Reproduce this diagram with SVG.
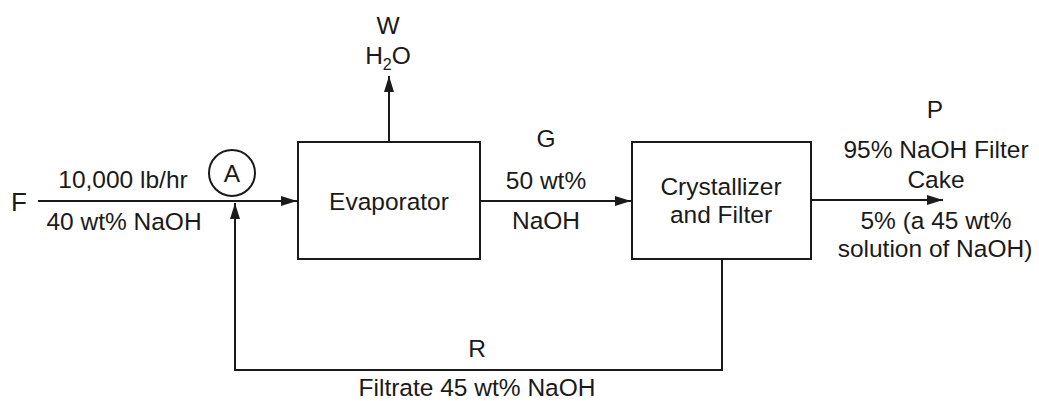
<svg xmlns="http://www.w3.org/2000/svg" width="1039" height="401" viewBox="0 0 1039 401">
<style>
.t{font-family:"Liberation Sans",Arial,sans-serif;font-size:24.5px;fill:#1a1a1a;text-anchor:middle}
.box{fill:#fff;stroke:#1a1a1a;stroke-width:2}
.ln{fill:none;stroke:#1a1a1a;stroke-width:2}
</style>
<defs>
<marker id="ah" markerWidth="16" markerHeight="10" refX="16" refY="5" orient="auto" markerUnits="userSpaceOnUse">
<path d="M0,0 L16,5 L0,10 Z" fill="#1a1a1a"/>
</marker>
</defs>
<rect width="1039" height="401" fill="#fff"/>
<g id="connectors">
<path class="ln" d="M38,201 L297,201" marker-end="url(#ah)"/>
<path class="ln" d="M389,142 L389,76" marker-end="url(#ah)"/>
<path class="ln" d="M480,201 L631,201" marker-end="url(#ah)"/>
<path class="ln" d="M811,200 L943,200" marker-end="url(#ah)"/>
<path class="ln" d="M722,259 L722,370 L235,370 L235,203" marker-end="url(#ah)"/>
</g>
<g id="mixer">
<circle cx="232" cy="173" r="23" fill="none" stroke="#1a1a1a" stroke-width="2"/>
<text class="t" x="232" y="182">A</text>
</g>
<g id="evaporator">
<rect class="box" x="298" y="142" width="182" height="117"/>
<text class="t" x="389" y="210">Evaporator</text>
</g>
<g id="crystallizer">
<rect class="box" x="632" y="142" width="179" height="117"/>
<text class="t" x="721" y="195">Crystallizer</text>
<text class="t" x="721" y="223">and Filter</text>
</g>
<g id="labels">
<text class="t" x="19" y="211" style="font-size:26px">F</text>
<text class="t" x="123" y="188">10,000 lb/hr</text>
<text class="t" x="124" y="230">40 wt% NaOH</text>
<text class="t" x="388" y="34">W</text>
<text class="t" x="388" y="64">H<tspan style="font-size:16px" dy="6">2</tspan><tspan dy="-6">O</tspan></text>
<text class="t" x="546" y="147">G</text>
<text class="t" x="546" y="189">50 wt%</text>
<text class="t" x="546" y="229">NaOH</text>
<text class="t" x="935" y="118">P</text>
<text class="t" x="936" y="158">95% NaOH Filter</text>
<text class="t" x="936" y="188">Cake</text>
<text class="t" x="936" y="229">5% (a 45 wt%</text>
<text class="t" x="935" y="257">solution of NaOH)</text>
<text class="t" x="477" y="357">R</text>
<text class="t" x="477" y="396">Filtrate 45 wt% NaOH</text>
</g>
</svg>
